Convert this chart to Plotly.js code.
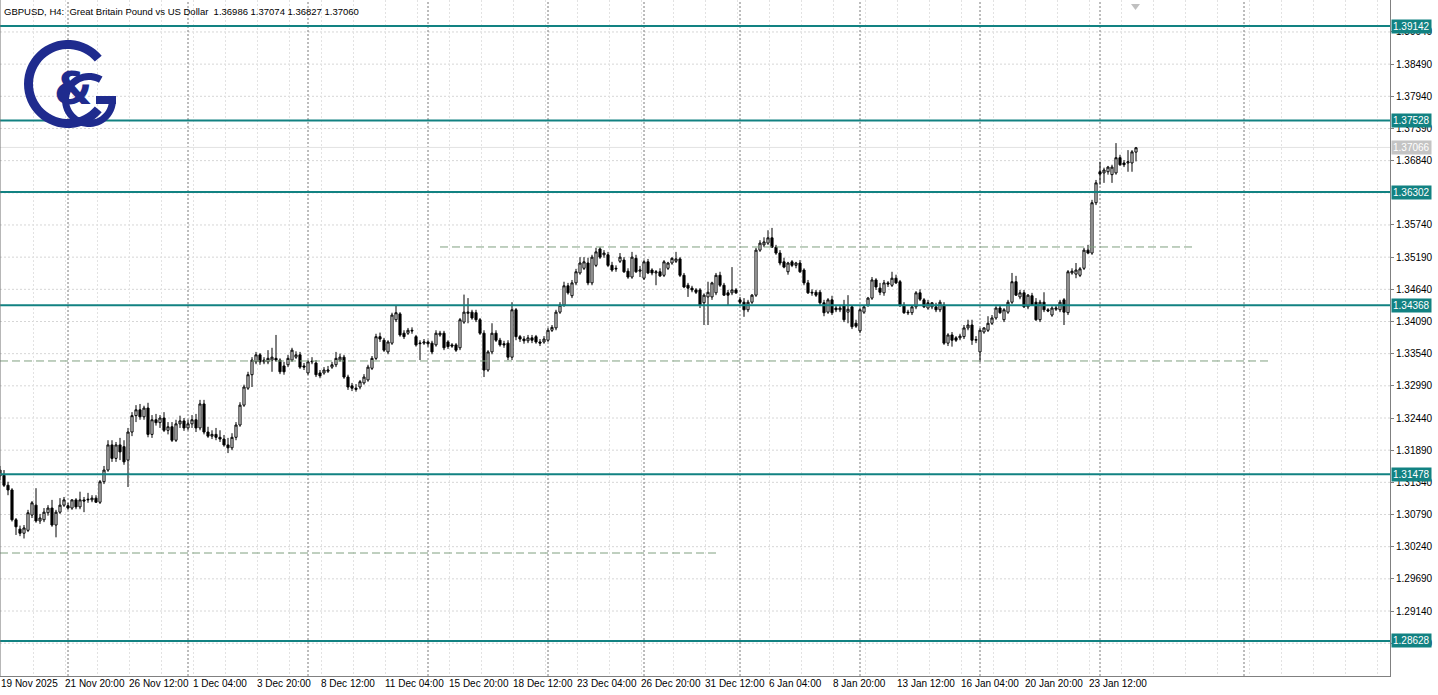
<!DOCTYPE html>
<html><head><meta charset="utf-8">
<script src="https://cdn.plot.ly/plotly-3.0.1.min.js"></script>
<style>html,body{margin:0;padding:0;background:#fff;overflow:hidden}#chart{width:1438px;height:695px}</style>
</head><body><div id="chart"></div>
<script>
// ---- data (GBPUSD H4 candles) ----
const openP = [1.3155,1.3146,1.3129,1.3121,1.3070,1.3054,1.3047,1.3052,1.3078,1.3095,
1.3068,1.3070,1.3082,1.3090,1.3061,1.3083,1.3095,1.3094,1.3090,1.3104,
1.3092,1.3104,1.3104,1.3104,1.3107,1.3100,1.3135,1.3155,1.3198,1.3175,
1.3198,1.3195,1.3172,1.3220,1.3248,1.3258,1.3246,1.3261,1.3216,1.3241,
1.3236,1.3244,1.3223,1.3229,1.3206,1.3234,1.3239,1.3227,1.3234,1.3241,
1.3227,1.3268,1.3220,1.3213,1.3216,1.3211,1.3208,1.3198,1.3193,1.3211,
1.3232,1.3266,1.3295,1.3318,1.3340,1.3352,1.3340,1.3340,1.3343,1.3346,
1.3343,1.3333,1.3335,1.3343,1.3348,1.3352,1.3333,1.3321,1.3340,1.3338,
1.3321,1.3321,1.3324,1.3331,1.3335,1.3343,1.3348,1.3314,1.3299,1.3295,
1.3297,1.3304,1.3309,1.3329,1.3346,1.3383,1.3377,1.3357,1.3372,1.3412,
1.3422,1.3389,1.3389,1.3394,1.3383,1.3371,1.3372,1.3374,1.3372,1.3369,
1.3386,1.3389,1.3374,1.3369,1.3369,1.3364,1.3408,1.3423,1.3425,1.3424,
1.3412,1.3389,1.3326,1.3357,1.3389,1.3377,1.3371,1.3372,1.3348,1.3429,
1.3383,1.3379,1.3376,1.3381,1.3383,1.3374,1.3374,1.3377,1.3394,1.3398,
1.3425,1.3437,1.3470,1.3453,1.3475,1.3492,1.3500,1.3509,1.3475,1.3505,
1.3533,1.3523,1.3523,1.3505,1.3500,1.3512,1.3514,1.3495,1.3485,1.3517,
1.3495,1.3483,1.3511,1.3497,1.3492,1.3494,1.3488,1.3500,1.3509,1.3512,
1.3516,1.3488,1.3471,1.3466,1.3463,1.3463,1.3441,1.3451,1.3451,1.3458,
1.3488,1.3471,1.3458,1.3458,1.3463,1.3446,1.3442,1.3429,1.3442,1.3454,
1.3531,1.3540,1.3543,1.3552,1.3536,1.3526,1.3511,1.3494,1.3511,1.3505,
1.3509,1.3497,1.3475,1.3459,1.3459,1.3459,1.3441,1.3425,1.3446,1.3432,
1.3429,1.3437,1.3425,1.3434,1.3406,1.3393,1.3425,1.3437,1.3449,1.3480,
1.3466,1.3458,1.3475,1.3471,1.3483,1.3477,1.3437,1.3425,1.3424,1.3434,
1.3458,1.3446,1.3432,1.3434,1.3434,1.3429,1.3437,1.3372,1.3386,1.3381,
1.3381,1.3383,1.3398,1.3403,1.3377,1.3357,1.3391,1.3394,1.3406,1.3415,
1.3432,1.3412,1.3425,1.3442,1.3477,1.3451,1.3458,1.3434,1.3453,1.3442,
1.3412,1.3442,1.3429,1.3420,1.3430,1.3429,1.3446,1.3424,1.3492,1.3490,
1.3488,1.3500,1.3531,1.3526,1.3612,1.3665,1.3663,1.3665,1.3660,1.3663,
1.3689,1.3680,1.3680,1.3680,1.36986];
const highP = [1.3162,1.3155,1.3135,1.3124,1.3073,1.3060,1.3061,1.3087,1.3102,1.3124,
1.3080,1.3090,1.3095,1.3104,1.3087,1.3107,1.3109,1.3099,1.3105,1.3107,
1.3118,1.3109,1.3116,1.3112,1.3112,1.3138,1.3162,1.3206,1.3206,1.3203,
1.3210,1.3206,1.3227,1.3254,1.3266,1.3268,1.3265,1.3270,1.3249,1.3251,
1.3249,1.3254,1.3237,1.3237,1.3241,1.3248,1.3244,1.3241,1.3249,1.3251,
1.3275,1.3275,1.3229,1.3223,1.3227,1.3223,1.3215,1.3210,1.3218,1.3237,
1.3271,1.3301,1.3323,1.3348,1.3357,1.3355,1.3348,1.3360,1.3364,1.3386,
1.3346,1.3340,1.3352,1.3364,1.3358,1.3357,1.3338,1.3343,1.3348,1.3343,
1.3326,1.3331,1.3333,1.3340,1.3357,1.3354,1.3352,1.3318,1.3304,1.3302,
1.3309,1.3319,1.3335,1.3350,1.3388,1.3390,1.3381,1.3377,1.3424,1.3437,
1.3425,1.3394,1.3398,1.3399,1.3386,1.3377,1.3379,1.3377,1.3376,1.3394,
1.3393,1.3393,1.3377,1.3372,1.3372,1.3415,1.3455,1.3449,1.3429,1.3429,
1.3415,1.3394,1.3360,1.3406,1.3394,1.3381,1.3376,1.3377,1.3442,1.3432,
1.3386,1.3384,1.3386,1.3386,1.3386,1.3379,1.3384,1.3398,1.3403,1.3429,
1.3442,1.3477,1.3475,1.3480,1.3499,1.3519,1.3519,1.3518,1.3523,1.3535,
1.3536,1.3531,1.3528,1.3511,1.3505,1.3526,1.3519,1.3500,1.3528,1.3523,
1.3504,1.3514,1.3516,1.3500,1.3497,1.3500,1.3514,1.3511,1.3519,1.3528,
1.3519,1.3492,1.3475,1.3470,1.3466,1.3466,1.3457,1.3477,1.3477,1.3492,
1.3494,1.3475,1.3463,1.3502,1.3466,1.3451,1.3449,1.3446,1.3456,1.3535,
1.3548,1.3553,1.3565,1.3569,1.3540,1.3531,1.3518,1.3511,1.3514,1.3511,
1.3514,1.3500,1.3480,1.3464,1.3463,1.3463,1.3446,1.3449,1.3453,1.3437,
1.3437,1.3446,1.3454,1.3437,1.3412,1.3432,1.3437,1.3451,1.3485,1.3483,
1.3475,1.3480,1.3478,1.3494,1.3489,1.3480,1.3442,1.3429,1.3437,1.3461,
1.3464,1.3449,1.3446,1.3442,1.3441,1.3446,1.3442,1.3389,1.3391,1.3384,
1.3388,1.3403,1.3412,1.3412,1.3384,1.3398,1.3399,1.3418,1.3420,1.3435,
1.3437,1.3432,1.3446,1.3492,1.3487,1.3463,1.3463,1.3456,1.3458,1.3449,
1.3446,1.3459,1.3432,1.3435,1.3437,1.3446,1.3449,1.3497,1.3500,1.3509,
1.3502,1.3535,1.3540,1.3617,1.3651,1.3682,1.3672,1.3675,1.3677,1.3714,
1.3694,1.3685,1.3702,1.3702,1.37074];
const lowP = [1.3138,1.3126,1.3112,1.3067,1.3044,1.3042,1.3038,1.3049,1.3073,1.3065,
1.3063,1.3066,1.3077,1.3058,1.3040,1.3080,1.3092,1.3087,1.3087,1.3088,
1.3088,1.3083,1.3099,1.3100,1.3099,1.3097,1.3131,1.3152,1.3169,1.3169,
1.3172,1.3164,1.3126,1.3213,1.3237,1.3241,1.3241,1.3211,1.3210,1.3231,
1.3227,1.3220,1.3216,1.3203,1.3203,1.3227,1.3222,1.3223,1.3227,1.3220,
1.3223,1.3216,1.3210,1.3208,1.3206,1.3203,1.3195,1.3184,1.3189,1.3206,
1.3229,1.3263,1.3292,1.3297,1.3336,1.3335,1.3336,1.3336,1.3323,1.3340,
1.3319,1.3318,1.3331,1.3340,1.3345,1.3328,1.3326,1.3318,1.3336,1.3314,
1.3312,1.3318,1.3321,1.3328,1.3331,1.3340,1.3311,1.3292,1.3290,1.3289,
1.3293,1.3301,1.3306,1.3326,1.3343,1.3374,1.3357,1.3353,1.3369,1.3408,
1.3383,1.3379,1.3386,1.3388,1.3366,1.3343,1.3369,1.3366,1.3353,1.3366,
1.3383,1.3360,1.3362,1.3364,1.3357,1.3360,1.3405,1.3406,1.3412,1.3408,
1.3386,1.3314,1.3323,1.3353,1.3374,1.3366,1.3364,1.3343,1.3343,1.3377,
1.3374,1.3371,1.3372,1.3372,1.3371,1.3367,1.3371,1.3374,1.3391,1.3394,
1.3422,1.3434,1.3455,1.3449,1.3471,1.3489,1.3497,1.3471,1.3471,1.3502,
1.3516,1.3518,1.3502,1.3494,1.3494,1.3509,1.3492,1.3482,1.3482,1.3492,
1.3485,1.3480,1.3490,1.3488,1.3471,1.3485,1.3485,1.3497,1.3506,1.3509,
1.3485,1.3466,1.3451,1.3459,1.3456,1.3432,1.3403,1.3403,1.3446,1.3454,
1.3468,1.3453,1.3437,1.3454,1.3456,1.3439,1.3417,1.3425,1.3439,1.3451,
1.3528,1.3536,1.3540,1.3535,1.3523,1.3505,1.3500,1.3489,1.3502,1.3500,
1.3492,1.3471,1.3456,1.3453,1.3451,1.3437,1.3418,1.3422,1.3420,1.3425,
1.3425,1.3408,1.3406,1.3396,1.3398,1.3389,1.3422,1.3434,1.3446,1.3463,
1.3454,1.3453,1.3468,1.3468,1.3473,1.3434,1.3422,1.3420,1.3420,1.3430,
1.3444,1.3432,1.3429,1.3430,1.3425,1.3425,1.3369,1.3367,1.3366,1.3374,
1.3377,1.3379,1.3394,1.3369,1.3372,1.3340,1.3388,1.3391,1.3403,1.3412,
1.3422,1.3408,1.3422,1.3439,1.3453,1.3447,1.3432,1.3430,1.3436,1.3410,
1.3408,1.3425,1.3425,1.3417,1.3427,1.3425,1.3403,1.3420,1.3489,1.3483,
1.3485,1.3497,1.3524,1.3523,1.3608,1.3643,1.3646,1.3660,1.3646,1.3660,
1.3675,1.3673,1.3665,1.3665,1.36827];
const closeP = [1.3145,1.3129,1.3121,1.3070,1.3058,1.3047,1.3056,1.3082,1.3099,1.3068,
1.3073,1.3083,1.3090,1.3061,1.3083,1.3095,1.3104,1.3090,1.3104,1.3092,
1.3104,1.3102,1.3105,1.3107,1.3100,1.3135,1.3155,1.3198,1.3175,1.3198,
1.3186,1.3169,1.3220,1.3248,1.3258,1.3246,1.3261,1.3216,1.3241,1.3236,
1.3244,1.3223,1.3229,1.3206,1.3234,1.3239,1.3227,1.3234,1.3241,1.3227,
1.3268,1.3220,1.3213,1.3216,1.3211,1.3208,1.3198,1.3193,1.3211,1.3232,
1.3266,1.3297,1.3318,1.3343,1.3352,1.3340,1.3343,1.3346,1.3348,1.3343,
1.3323,1.3323,1.3346,1.3360,1.3352,1.3331,1.3331,1.3340,1.3341,1.3318,
1.3316,1.3326,1.3326,1.3335,1.3346,1.3348,1.3314,1.3297,1.3295,1.3293,
1.3306,1.3314,1.3331,1.3346,1.3383,1.3379,1.3360,1.3374,1.3420,1.3424,
1.3386,1.3383,1.3394,1.3393,1.3369,1.3372,1.3374,1.3371,1.3357,1.3389,
1.3389,1.3364,1.3366,1.3367,1.3360,1.3412,1.3425,1.3425,1.3415,1.3412,
1.3389,1.3326,1.3357,1.3389,1.3377,1.3369,1.3369,1.3348,1.3429,1.3383,
1.3379,1.3376,1.3381,1.3377,1.3374,1.3372,1.3379,1.3394,1.3399,1.3425,
1.3437,1.3470,1.3458,1.3475,1.3494,1.3509,1.3511,1.3475,1.3519,1.3528,
1.3519,1.3526,1.3505,1.3497,1.3499,1.3519,1.3494,1.3485,1.3519,1.3494,
1.3497,1.3511,1.3492,1.3492,1.3494,1.3487,1.3511,1.3509,1.3517,1.3516,
1.3488,1.3468,1.3466,1.3463,1.3459,1.3437,1.3454,1.3459,1.3475,1.3488,
1.3471,1.3454,1.3454,1.3463,1.3458,1.3442,1.3429,1.3442,1.3454,1.3531,
1.3543,1.3545,1.3552,1.3536,1.3526,1.3509,1.3502,1.3509,1.3505,1.3509,
1.3494,1.3475,1.3458,1.3458,1.3454,1.3441,1.3424,1.3446,1.3424,1.3429,
1.3432,1.3412,1.3430,1.3400,1.3401,1.3429,1.3434,1.3449,1.3480,1.3468,
1.3459,1.3475,1.3473,1.3483,1.3475,1.3436,1.3424,1.3424,1.3434,1.3458,
1.3447,1.3434,1.3441,1.3441,1.3429,1.3442,1.3372,1.3386,1.3377,1.3377,
1.3384,1.3398,1.3403,1.3377,1.3378,1.3394,1.3398,1.3406,1.3415,1.3432,
1.3424,1.3429,1.3442,1.3477,1.3454,1.3458,1.3434,1.3454,1.3437,1.3412,
1.3442,1.3429,1.3427,1.3432,1.3432,1.3442,1.3425,1.3494,1.3495,1.3497,
1.3499,1.3531,1.3526,1.3612,1.3646,1.3661,1.3668,1.3673,1.3673,1.3689,
1.3677,1.3677,1.3682,1.3699,1.37060];

const tickIdx  = [0,16,32,48,64,80,96,112,128,144,160,176,192,208,224,240,256,272];
const tickText = ['19 Nov 2025','21 Nov 20:00','26 Nov 12:00','1 Dec 04:00','3 Dec 20:00','8 Dec 12:00',
  '11 Dec 04:00','15 Dec 20:00','18 Dec 12:00','23 Dec 04:00','26 Dec 20:00','31 Dec 12:00',
  '6 Jan 04:00','8 Jan 20:00','13 Jan 12:00','16 Jan 04:00','20 Jan 20:00','23 Jan 12:00'];
const weekSeparators = [17,47,77,107,137,161,185,215,245,275,311];
const gridLevels = [1.28590,1.29140,1.29690,1.30240,1.30790,1.31340,1.31890,1.32440,1.32990,1.33540,
  1.34090,1.34640,1.35190,1.35740,1.36290,1.36840,1.37390,1.37940,1.38490,1.39040];
const priceTicks = [1.28590,1.29140,1.29690,1.30240,1.30790,1.31340,1.31890,1.32440,1.32990,1.33540,
  1.34090,1.34640,1.35190,1.35740,1.36840,1.37390,1.37940,1.38490,1.39040];
const levelLines = [1.39142,1.37528,1.36302,1.34368,1.31478,1.28628];
const dashedLevels = [1.35364,1.33415,1.30132];
const dashedStart  = [110,0,0];
const dashedEnd    = [298,317,179];
const bidPrice = 1.37066;
const headerText = 'GBPUSD, H4:  Great Britain Pound vs US Dollar  1.36986 1.37074 1.36827 1.37060';

// ---- styling ----
const TEAL = '#128282';
const NAVY = '#1f2b8e';
const FONT = 'Liberation Sans, Arial, sans-serif';
const PW = 1390, PH = 676; // plot area in px

const barIdx = openP.map((_, i) => i);

const traces = [{
  type: 'candlestick', x: barIdx, open: openP, high: highP, low: lowP, close: closeP,
  increasing: {line: {color: '#000000', width: 1}, fillcolor: '#ffffff'},
  decreasing: {line: {color: '#000000', width: 1}, fillcolor: '#000000'},
  whiskerwidth: 0, hoverinfo: 'skip', showlegend: false
}];

const shapes = [];
gridLevels.forEach(v => shapes.push({type:'line', xref:'paper', yref:'y', x0:0, x1:1, y0:v, y1:v,
  line:{color:'#d6d6d6', width:1, dash:'2px,2px'}, layer:'below'}));
weekSeparators.forEach(v => shapes.push({type:'line', xref:'x', yref:'paper', x0:v, x1:v, y0:0, y1:1,
  line:{color:'#7a7a7a', width:1, dash:'2px,2px'}, layer:'below'}));
levelLines.forEach(v => shapes.push({type:'line', xref:'paper', yref:'y', x0:0, x1:1, y0:v, y1:v,
  line:{color:TEAL, width:2}}));
dashedLevels.forEach((v, k) => shapes.push({type:'line', xref:'x', yref:'y', x0:dashedStart[k], x1:dashedEnd[k], y0:v, y1:v,
  line:{color:'#80a080', width:1, dash:'8px,4px'}}));
shapes.push({type:'line', xref:'paper', yref:'y', x0:0, x1:1, y0:bidPrice, y1:bidPrice, line:{color:'#e2e2e2', width:1}, layer:'below'});
shapes.push({type:'line', xref:'paper', yref:'paper', x0:0, x1:0, y0:0, y1:1, line:{color:'#707070', width:1}});

// logo geometry (pixel space -> paper)
function toPaper(px, py){ return (px/PW).toFixed(5) + ',' + (1 - py/PH).toFixed(5); }
function ring(cx, cy, ro, ri, a0, a1){
  const n = 48, pts = [];
  for (let k = 0; k <= n; k++){ const a = (a0 + (a1 - a0)*k/n)*Math.PI/180; pts.push(toPaper(cx + ro*Math.cos(a), cy - ro*Math.sin(a))); }
  for (let k = n; k >= 0; k--){ const a = (a0 + (a1 - a0)*k/n)*Math.PI/180; pts.push(toPaper(cx + ri*Math.cos(a), cy - ri*Math.sin(a))); }
  return 'M' + pts.join('L') + 'Z';
}
shapes.push({type:'path', xref:'paper', yref:'paper', path: ring(68, 84, 44, 35, 40, 320), fillcolor:NAVY, line:{width:0}});
shapes.push({type:'path', xref:'paper', yref:'paper', path: ring(89, 100, 27, 20, 60, 360), fillcolor:NAVY, line:{width:0}});
shapes.push({type:'path', xref:'paper', yref:'paper',
  path: 'M' + [toPaper(96,96), toPaper(116,96), toPaper(116,104), toPaper(96,104)].join('L') + 'Z', fillcolor:NAVY, line:{width:0}});
// shift marker
shapes.push({type:'path', xref:'paper', yref:'paper',
  path: 'M' + [toPaper(1131,4), toPaper(1140,4), toPaper(1135.5,10)].join('L') + 'Z', fillcolor:'#c0c0c0', line:{width:0}});

const annotations = [];
tickIdx.forEach((v, k) => annotations.push({xref:'x', yref:'paper', x:v, y:0, yshift:-1, xanchor:'left', yanchor:'top',
  text: tickText[k], showarrow:false, font:{family:FONT, size:10, color:'#000'}, borderpad:0}));
levelLines.forEach(v => annotations.push({xref:'paper', yref:'y', x:1, xshift:1, y:v, xanchor:'left', yanchor:'middle',
  text: v.toFixed(5), showarrow:false, bgcolor:TEAL, font:{family:FONT, size:10, color:'#ffffff'}, borderpad:1}));
annotations.push({xref:'paper', yref:'y', x:1, xshift:1, y:bidPrice, xanchor:'left', yanchor:'middle',
  text: bidPrice.toFixed(5), showarrow:false, bgcolor:'#c4c4c4', font:{family:FONT, size:10, color:'#ffffff'}, borderpad:1});
annotations.push({xref:'paper', yref:'paper', x:0, xshift:2, y:1, yshift:-4, xanchor:'left', yanchor:'top',
  text: headerText, showarrow:false, font:{family:FONT, size:9.5, color:'#000'}});
annotations.push({xref:'paper', yref:'paper', x:73/PW, y:1 - 88/PH, xanchor:'center', yanchor:'middle',
  text:'<b>&</b>', showarrow:false, font:{family:'DejaVu Sans, sans-serif', size:44, color:NAVY}});

const layout = {
  width: 1438, height: 695,
  margin: {l:0, r:48, t:0, b:19},
  paper_bgcolor:'#ffffff', plot_bgcolor:'#ffffff',
  showlegend:false, boxgap:0.25,
  xaxis: {range:[0, 347.5], showticklabels:false, ticks:'', tickmode:'linear', tick0:0.25, dtick:8,
    showgrid:true, gridcolor:'#e2e2e2', griddash:'2px,2px', gridwidth:1, zeroline:false,
    showline:true, linecolor:'#808080', linewidth:1, rangeslider:{visible:false}, fixedrange:true},
  yaxis: {range:[1.28029, 1.395865], side:'right', tickmode:'array', tickvals:priceTicks,
    ticktext: priceTicks.map(v => v.toFixed(5)), ticks:'outside', ticklen:3, tickcolor:'#808080',
    tickfont:{family:FONT, size:10, color:'#000'}, showgrid:false,
    zeroline:false, showline:true, linecolor:'#808080', linewidth:1, fixedrange:true},
  shapes: shapes, annotations: annotations
};
Plotly.newPlot('chart', traces, layout, {displayModeBar:false, staticPlot:true});
</script></body></html>
